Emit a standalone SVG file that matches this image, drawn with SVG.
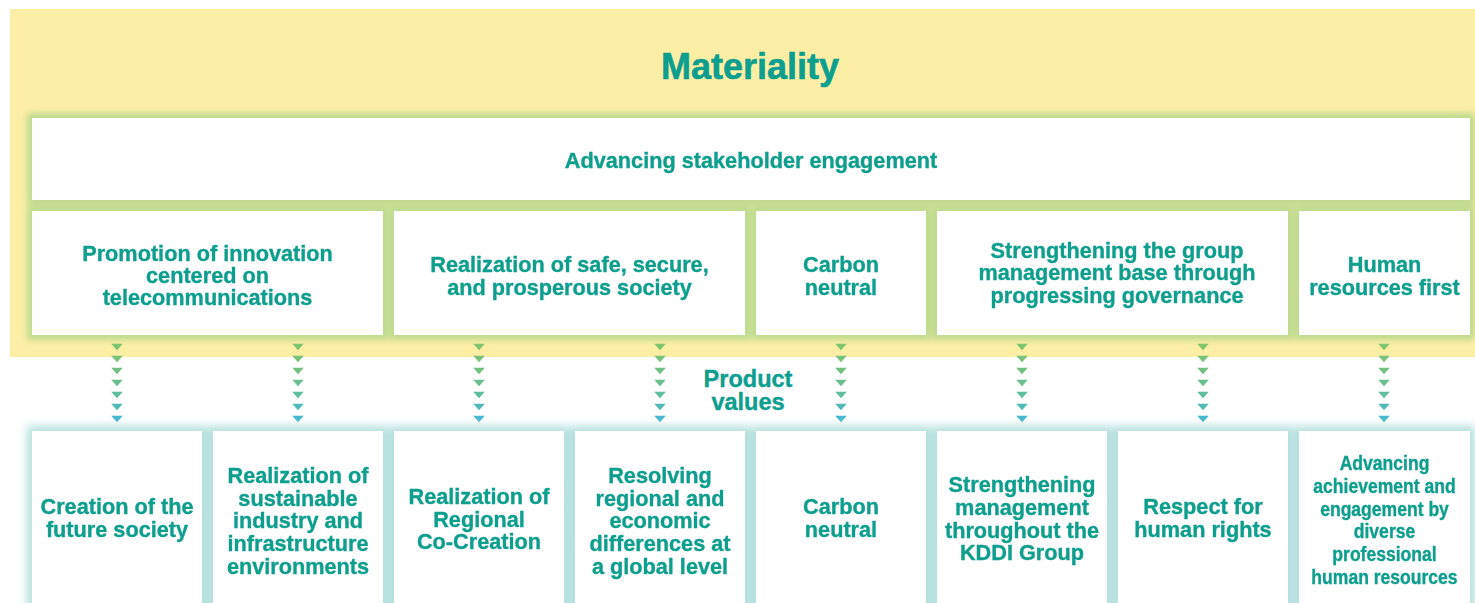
<svg xmlns="http://www.w3.org/2000/svg" xmlns:xlink="http://www.w3.org/1999/xlink" width="1475" height="603" viewBox="0 0 1475 603">
  <style>
    .box { fill: #ffffff; }
    .t { font-family: "Liberation Sans", Arial, sans-serif; font-weight: bold; fill: #0c9e8e; stroke: #0c9e8e; stroke-width: 0.35px; text-anchor: middle; }
    .title { font-size: 36px; stroke-width: 0.6px; }
    .lbl { font-size: 21.7px; }
    .pv { font-size: 23.5px; }
    .narrow { font-size: 19.5px; }
  </style>
  <defs>
    <!-- soft green halo around the materiality boxes -->
    <filter id="glowGreen" x="-5%" y="-20%" width="110%" height="140%">
      <feMorphology in="SourceAlpha" operator="dilate" radius="4.5" result="d"/>
      <feGaussianBlur in="d" stdDeviation="3" result="b"/>
      <feFlood flood-color="#bddb8f"/>
      <feComposite in2="b" operator="in" result="g"/>
      <feMerge><feMergeNode in="g"/><feMergeNode in="SourceGraphic"/></feMerge>
    </filter>
    <!-- soft teal halo around the product value boxes -->
    <filter id="glowTeal" x="-5%" y="-30%" width="110%" height="160%">
      <feMorphology in="SourceAlpha" operator="dilate" radius="4.5" result="d"/>
      <feGaussianBlur in="d" stdDeviation="5" result="b"/>
      <feFlood flood-color="#b2dfdc"/>
      <feComposite in2="b" operator="in" result="g"/>
      <feMerge><feMergeNode in="g"/><feMergeNode in="SourceGraphic"/></feMerge>
    </filter>
    <!-- one column of dotted chevrons, green fading to blue -->
    <path id="tri" d="M-5.8,-3.3 L5.8,-3.3 L0,3.3 Z"/>
    <g id="chevcol">
      <use xlink:href="#tri" y="347" fill="#7dc46f"/>
      <use xlink:href="#tri" y="359" fill="#79c277"/>
      <use xlink:href="#tri" y="371" fill="#73c181"/>
      <use xlink:href="#tri" y="383" fill="#6bbf8e"/>
      <use xlink:href="#tri" y="395" fill="#5fbda0"/>
      <use xlink:href="#tri" y="407" fill="#52bab6"/>
      <use xlink:href="#tri" y="419" fill="#45b7cf"/>
    </g>
  </defs>

  <rect x="0" y="0" width="1475" height="603" fill="#ffffff"/>
  <!-- materiality band -->
  <rect x="10" y="9" width="1465" height="348" fill="#fdeea6"/>
  <text class="t title" x="750" y="79">Materiality</text>

  <!-- connectors: chevron columns between the two rows -->
  <g id="connectors">
    <use xlink:href="#chevcol" x="117"/>
    <use xlink:href="#chevcol" x="298"/>
    <use xlink:href="#chevcol" x="479"/>
    <use xlink:href="#chevcol" x="660"/>
    <use xlink:href="#chevcol" x="841"/>
    <use xlink:href="#chevcol" x="1022"/>
    <use xlink:href="#chevcol" x="1203"/>
    <use xlink:href="#chevcol" x="1384"/>
  </g>

  <text class="t pv" x="748" y="387">Product</text>
  <text class="t pv" x="748" y="410">values</text>

  <!-- materiality boxes -->
  <g filter="url(#glowGreen)">
    <g id="engagement">
      <rect class="box" x="32" y="118" width="1438" height="82"/>
      <text class="t lbl" x="751" y="168">Advancing stakeholder engagement</text>
    </g>
    <g id="innovation">
      <rect class="box" x="32" y="211" width="351" height="124"/>
      <text class="t lbl" x="207.5" y="261">Promotion of innovation</text>
      <text class="t lbl" x="207.5" y="283">centered on</text>
      <text class="t lbl" x="207.5" y="305">telecommunications</text>
    </g>
    <g id="safe-society">
      <rect class="box" x="394" y="211" width="351" height="124"/>
      <text class="t lbl" x="569.5" y="272">Realization of safe, secure,</text>
      <text class="t lbl" x="569.5" y="295">and prosperous society</text>
    </g>
    <g id="carbon">
      <rect class="box" x="756" y="211" width="170" height="124"/>
      <text class="t lbl" x="841" y="272">Carbon</text>
      <text class="t lbl" x="841" y="295">neutral</text>
    </g>
    <g id="governance">
      <rect class="box" x="937" y="211" width="351" height="124"/>
      <text class="t lbl" x="1117" y="258">Strengthening the group</text>
      <text class="t lbl" x="1117" y="280">management base through</text>
      <text class="t lbl" x="1117" y="303">progressing governance</text>
    </g>
    <g id="human-first">
      <rect class="box" x="1299" y="211" width="171" height="124"/>
      <text class="t lbl" x="1384.5" y="272">Human</text>
      <text class="t lbl" x="1384.5" y="295">resources first</text>
    </g>
  </g>

  <!-- product value boxes -->
  <g filter="url(#glowTeal)">
    <g id="future-society">
      <rect class="box" x="32" y="431" width="170" height="185"/>
      <text class="t lbl" x="117" y="514">Creation of the</text>
      <text class="t lbl" x="117" y="537">future society</text>
    </g>
    <g id="sustainable-industry">
      <rect class="box" x="213" y="431" width="170" height="185"/>
      <text class="t lbl" x="298" y="483">Realization of</text>
      <text class="t lbl" x="298" y="506">sustainable</text>
      <text class="t lbl" x="298" y="528">industry and</text>
      <text class="t lbl" x="298" y="551">infrastructure</text>
      <text class="t lbl" x="298" y="574">environments</text>
    </g>
    <g id="regional-cocreation">
      <rect class="box" x="394" y="431" width="170" height="185"/>
      <text class="t lbl" x="479" y="504">Realization of</text>
      <text class="t lbl" x="479" y="527">Regional</text>
      <text class="t lbl" x="479" y="549">Co-Creation</text>
    </g>
    <g id="global-differences">
      <rect class="box" x="575" y="431" width="170" height="185"/>
      <text class="t lbl" x="660" y="483">Resolving</text>
      <text class="t lbl" x="660" y="506">regional and</text>
      <text class="t lbl" x="660" y="528">economic</text>
      <text class="t lbl" x="660" y="551">differences at</text>
      <text class="t lbl" x="660" y="574">a global level</text>
    </g>
    <g id="carbon-value">
      <rect class="box" x="756" y="431" width="170" height="185"/>
      <text class="t lbl" x="841" y="514">Carbon</text>
      <text class="t lbl" x="841" y="537">neutral</text>
    </g>
    <g id="group-management">
      <rect class="box" x="937" y="431" width="170" height="185"/>
      <text class="t lbl" x="1022" y="492">Strengthening</text>
      <text class="t lbl" x="1022" y="515">management</text>
      <text class="t lbl" x="1022" y="538">throughout the</text>
      <text class="t lbl" x="1022" y="560">KDDI Group</text>
    </g>
    <g id="human-rights">
      <rect class="box" x="1118" y="431" width="170" height="185"/>
      <text class="t lbl" x="1203" y="514">Respect for</text>
      <text class="t lbl" x="1203" y="537">human rights</text>
    </g>
    <g id="diverse-talent">
      <rect class="box" x="1299" y="431" width="171" height="185"/>
      <g transform="translate(1384.5,0) scale(0.9,1)">
        <text class="t narrow" x="0" y="470">Advancing</text>
        <text class="t narrow" x="0" y="493">achievement and</text>
        <text class="t narrow" x="0" y="516">engagement by</text>
        <text class="t narrow" x="0" y="538">diverse</text>
        <text class="t narrow" x="0" y="561">professional</text>
        <text class="t narrow" x="0" y="584">human resources</text>
      </g>
    </g>
  </g>
</svg>
